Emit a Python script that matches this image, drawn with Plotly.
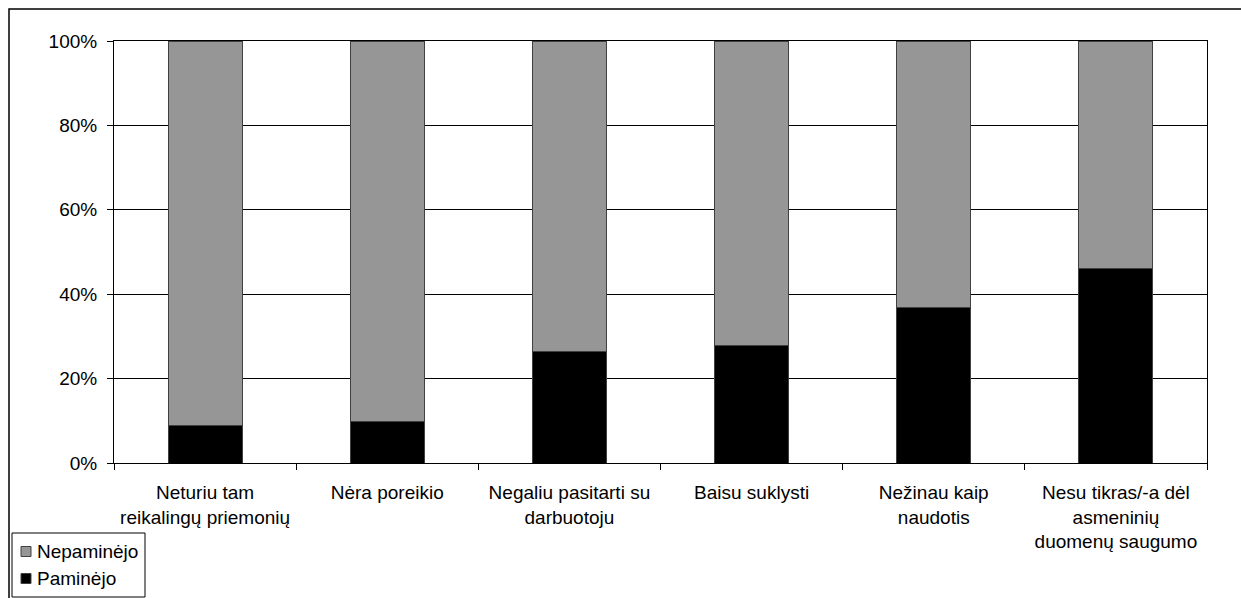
import plotly.graph_objects as go

# Survey reasons and share of respondents who mentioned each one
categories = [
    "Neturiu tam<br>reikalingų priemonių",
    "Nėra poreikio",
    "Negaliu pasitarti su<br>darbuotoju",
    "Baisu suklysti",
    "Nežinau kaip<br>naudotis",
    "Nesu tikras/-a dėl<br>asmeninių<br>duomenų saugumo",
]
mentioned = [8.8, 9.8, 26.4, 27.9, 36.8, 46.2]          # Paminėjo, %
not_mentioned = [100 - v for v in mentioned]              # Nepaminėjo, %
y_ticks = [0, 20, 40, 60, 80, 100]

series = [
    ("Paminėjo", mentioned, "#000000"),
    ("Nepaminėjo", not_mentioned, "#969696"),
]

W, H = 1241, 598
L, R, T, B = 114, 34, 41, 135
pw, ph = W - L - R, H - T - B

FAMILY = "Liberation Sans, Arial, sans-serif"
font = dict(family=FAMILY, size=19, color="black")


def px_to_paper_x(px):
    return (px - L) / pw


def px_to_paper_y(py):
    return (H - B - py) / ph


fig = go.Figure()
for name, values, color in series:
    fig.add_trace(go.Bar(
        x=categories, y=values, name=name, showlegend=False,
        marker=dict(color=color, line=dict(color="#404040", width=1)),
    ))

# outer chart frame (runs past the right and bottom edges of the page)
fig.add_shape(type="rect", xref="paper", yref="paper",
              x0=px_to_paper_x(9), x1=px_to_paper_x(1260),
              y0=px_to_paper_y(620), y1=px_to_paper_y(9),
              line=dict(color="black", width=1.5), layer="below")

# legend box in the lower-left corner, top entry is the upper stack segment
fig.add_shape(type="rect", xref="paper", yref="paper",
              x0=px_to_paper_x(12), x1=px_to_paper_x(145),
              y0=px_to_paper_y(597), y1=px_to_paper_y(533),
              line=dict(color="black", width=1), fillcolor="white")
for i, (name, _, color) in enumerate(reversed(series)):
    cy = 551.5 + i * 27
    fig.add_shape(type="rect", xref="paper", yref="paper",
                  x0=px_to_paper_x(21), x1=px_to_paper_x(31),
                  y0=px_to_paper_y(cy + 5), y1=px_to_paper_y(cy - 5),
                  line=dict(color="#404040", width=1), fillcolor=color)
    fig.add_annotation(xref="paper", yref="paper",
                       x=px_to_paper_x(35), y=px_to_paper_y(cy),
                       xanchor="left", yanchor="middle", showarrow=False,
                       text=name, font=font)

fig.update_layout(
    width=W, height=H,
    margin=dict(l=L, r=R, t=T, b=B, autoexpand=False),
    barmode="stack", bargap=0.594,
    paper_bgcolor="white", plot_bgcolor="white",
    font=font, showlegend=False,
)

fig.update_xaxes(
    type="category", tickson="boundaries",
    ticks="outside", ticklen=6, tickcolor="black",
    showline=True, linecolor="black", linewidth=1, mirror=True,
    showgrid=False, tickfont=font,
    ticklabelstandoff=12,
)
fig.update_yaxes(
    range=[0, 100], tickvals=y_ticks,
    ticktext=[f"{v}%" for v in y_ticks],
    ticks="outside", ticklen=6, tickcolor="black",
    showline=True, linecolor="black", linewidth=1, mirror=True,
    showgrid=True, gridcolor="black", gridwidth=1,
    zeroline=False, tickfont=font, ticklabelstandoff=6,
)

fig.write_html("out.html")
